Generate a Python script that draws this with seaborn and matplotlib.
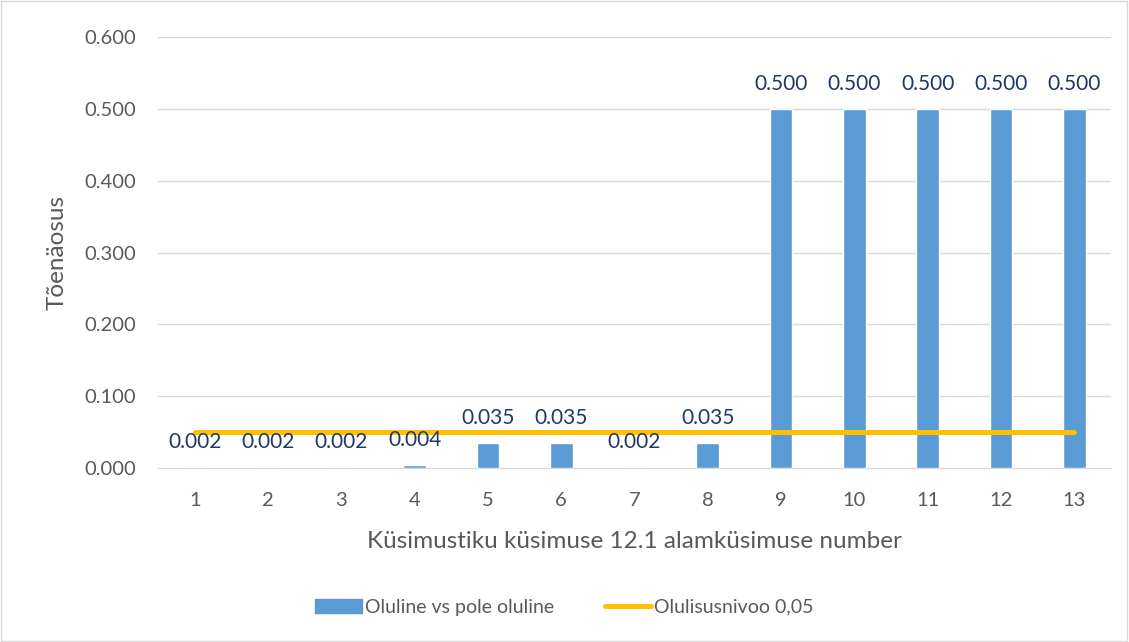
import pandas as pd
import matplotlib.pyplot as plt
import matplotlib.patches as mpatches
import matplotlib.lines as mlines
import seaborn as sns
import numpy as np

# chart data
questions = ["1", "2", "3", "4", "5", "6", "7", "8", "9", "10", "11", "12", "13"]
p_values = [0.002, 0.002, 0.002, 0.004, 0.035, 0.035, 0.002, 0.035,
            0.500, 0.500, 0.500, 0.500, 0.500]
alpha_level = [0.05] * len(questions)
y_ticks = [0.0, 0.1, 0.2, 0.3, 0.4, 0.5, 0.6]

bar_name = "Oluline vs pole oluline"
line_name = "Olulisusnivoo 0,05"

bar_color = "#5b9bd5"
line_color = "#ffc000"
text_gray = "#595959"

df = pd.DataFrame({"question": questions, "p": p_values, "alpha": alpha_level})

sns.set_style("white")
plt.rcParams["font.family"] = ["Lato", "DejaVu Sans"]

fig = plt.figure(figsize=(11.29, 6.42), dpi=100)
ax = fig.add_axes([0.140, 0.271, 0.844, 0.671])

# ----------------------------
# Bars + threshold line
# ----------------------------
sns.barplot(data=df, x="question", y="p", color=bar_color, width=0.31,
            saturation=1, ax=ax, zorder=2)
ax.plot(np.arange(len(questions)), df["alpha"], color=line_color, lw=3.6,
        solid_capstyle="round", zorder=3)

for i, v in enumerate(p_values):
    ax.annotate(f"{v:.3f}", (i, v), xytext=(0, 18), textcoords="offset points",
                ha="center", va="center", fontsize=15, color="#203864", zorder=4)

ax.set_ylim(0, 0.6)
ax.set_xlim(-0.5, len(questions) - 0.5)
ax.set_yticks(y_ticks)
ax.set_yticklabels([f"{t:.3f}" for t in y_ticks])
ax.yaxis.grid(True, color="#d9d9d9", lw=1)
ax.set_axisbelow(True)
ax.tick_params(axis="both", length=0, labelsize=14.5, colors=text_gray)
ax.tick_params(axis="y", pad=16)
ax.tick_params(axis="x", pad=17)

for s in ["top", "right", "left"]:
    ax.spines[s].set_visible(False)
ax.spines["bottom"].set_color("#d9d9d9")

ax.set_xlabel("Küsimustiku küsimuse 12.1 alamküsimuse number", fontsize=17.5,
              color=text_gray, labelpad=16)
ax.set_ylabel("Tõenäosus", fontsize=17.5, color=text_gray, labelpad=12)

handles = [mpatches.Patch(color=bar_color, label=bar_name),
           mlines.Line2D([], [], color=line_color, lw=3.6, solid_capstyle="round",
                         label=line_name)]
leg = fig.legend(handles=handles, loc="center", bbox_to_anchor=(0.5, 0.054), ncol=2,
                 frameon=False, fontsize=14, handlelength=2.4, handleheight=0.7,
                 columnspacing=2.6, handletextpad=0.15)
for t in leg.get_texts():
    t.set_color(text_gray)

# chart border
fig.patches.append(plt.Rectangle((0.001, 0.002), 0.997, 0.996, transform=fig.transFigure,
                                 fill=False, edgecolor="#d9d9d9", lw=1))

plt.savefig("out.png", dpi=100)
